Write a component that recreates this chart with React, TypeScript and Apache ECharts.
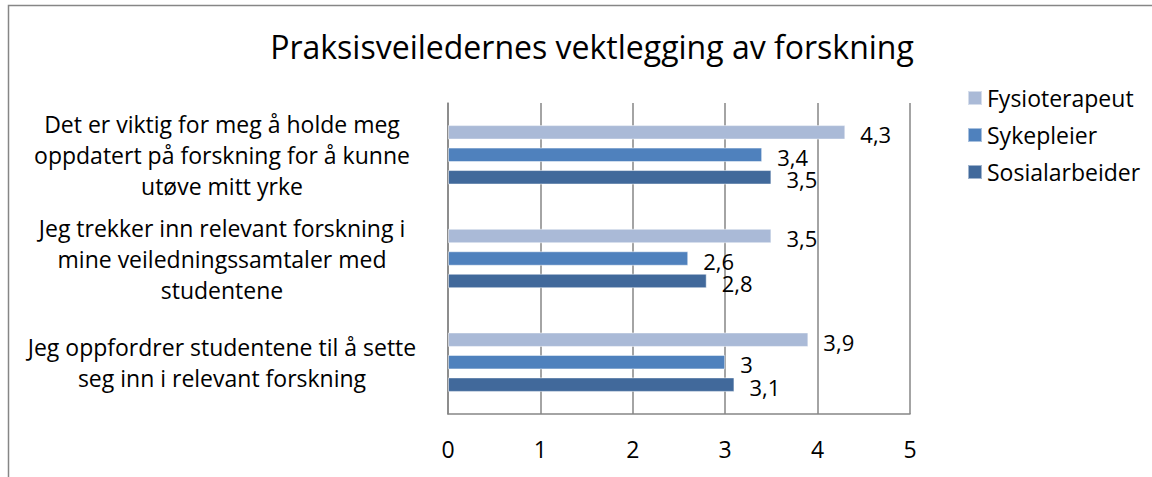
import React, { useEffect, useRef } from "react";
import * as echarts from "echarts";

const categories = [
  "Det er viktig for meg å holde meg\noppdatert på forskning for å kunne\nutøve mitt yrke",
  "Jeg trekker inn relevant forskning i\nmine veiledningssamtaler med\nstudentene",
  "Jeg oppfordrer studentene til å sette\nseg inn i relevant forskning",
];
const seriesNames = ["Fysioterapeut", "Sykepleier", "Sosialarbeider"];
const fysioterapeut = [4.3, 3.5, 3.9];
const sykepleier = [3.4, 2.6, 3.0];
const sosialarbeider = [3.5, 2.8, 3.1];
const colors = ["#AABAD7", "#4F81BD", "#41699B"];
const titleText = "Praksisveiledernes vektlegging av forskning";

const FONT = "Open Sans";

export default function App() {
  const ref = useRef<HTMLDivElement>(null);
  useEffect(() => {
    if (!ref.current) return;
    const chart = echarts.init(ref.current, null, { renderer: "svg" });
    const values = [fysioterapeut, sykepleier, sosialarbeider];
    chart.setOption({
      animation: false,
      backgroundColor: "#ffffff",
      textStyle: { fontFamily: FONT },
      title: {
        text: titleText,
        left: 587,
        textAlign: "center",
        top: 25,
        textStyle: { fontFamily: FONT, fontSize: 32, fontWeight: "normal", color: "#000" },
      },
      legend: {
        orient: "vertical",
        left: 962,
        top: 79,
        itemWidth: 14,
        itemHeight: 14,
        itemGap: 9,
        icon: "rect",
        data: seriesNames,
        textStyle: { fontFamily: FONT, fontSize: 23, color: "#000", lineHeight: 28 },
      },
      grid: { left: 448, right: 242, top: 103, bottom: 63, containLabel: false },
      xAxis: {
        type: "value",
        min: 0,
        max: 5,
        interval: 1,
        axisLine: { show: true, lineStyle: { color: "#868686", width: 1.5 } },
        axisTick: { show: false },
        splitLine: { show: true, lineStyle: { color: "#868686", width: 1.5 } },
        axisLabel: { fontFamily: FONT, fontSize: 23, color: "#000", margin: 23 },
      },
      yAxis: {
        type: "category",
        inverse: true,
        data: categories,
        axisLine: { show: true, lineStyle: { color: "#868686", width: 1.5 } },
        axisTick: { show: false },
        axisLabel: {
          fontFamily: FONT,
          fontSize: 23,
          color: "#000",
          align: "center",
          margin: 226,
          lineHeight: 31,
        },
      },
      series: seriesNames.map((name, i) => ({
        name,
        type: "bar",
        data: values[i],
        barWidth: 14.5,
        barGap: "55%",
        itemStyle: { color: colors[i], borderColor: "rgba(255,255,255,0.5)", borderWidth: 1 },
        label: {
          show: true,
          position: "right",
          distance: 15,
          fontFamily: FONT,
          fontSize: 22,
          lineHeight: 18,
          color: "#000",
          offset: [0, 2],
          formatter: (p: any) => String(p.value).replace(".", ","),
        },
      })),
      graphic: [
        {
          type: "rect",
          shape: { x: 8.5, y: 5.5, width: 1300, height: 600 },
          style: { fill: "none", stroke: "#868686", lineWidth: 1.5 },
          silent: true,
          z: 100,
        },
      ],
    });
    return () => chart.dispose();
  }, []);
  return (
    <div
      ref={ref}
      style={{ position: "absolute", left: 0, top: 0, width: 1152, height: 477 }}
    />
  );
}
